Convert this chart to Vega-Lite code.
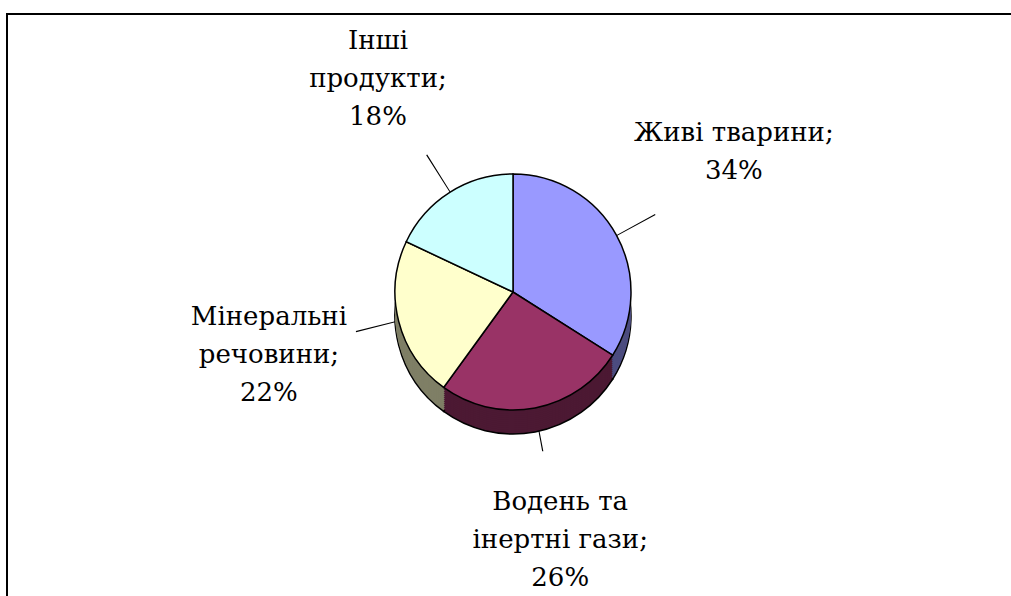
{
  "$schema": "https://vega.github.io/schema/vega-lite/v6.json",
  "width": 1012,
  "height": 592,
  "autosize": "none",
  "padding": {"left": 7, "top": 14, "right": -8, "bottom": -10},
  "background": "#ffffff",
  "view": {"stroke": "#000000", "strokeWidth": 2},
  "config": {"view": {"stroke": "#000000", "strokeWidth": 2}},
  "data": {
    "values": [
      {"category": "Живі тварини", "value": 34, "order": 1, "label": "Живі тварини;\n34%"},
      {"category": "Водень та інертні гази", "value": 26, "order": 2, "label": "Водень та\nінертні гази;\n26%"},
      {"category": "Мінеральні речовини", "value": 22, "order": 3, "label": "Мінеральні\nречовини;\n22%"},
      {"category": "Інші продукти", "value": 18, "order": 4, "label": "Інші\nпродукти;\n18%"}
    ]
  },
  "encoding": {
    "theta": {"field": "value", "type": "quantitative", "stack": true, "scale": {"domain": [0, 100]}},
    "order": {"field": "order", "type": "quantitative"}
  },
  "layer": [
    {
      "transform": [
        {"window": [{"op": "sum", "field": "value", "as": "cum"}], "sort": [{"field": "order"}]},
        {"calculate": "datum.cum - datum.value / 2", "as": "mid"},
        {"calculate": "datum.cum - datum.value / 2 + 0.12", "as": "mid2"}
      ],
      "mark": {"type": "arc", "radius": 60, "radius2": 162, "fill": "#000000", "yOffset": -18},
      "encoding": {
        "theta": {"field": "mid", "type": "quantitative", "stack": null, "scale": {"domain": [0, 100]}},
        "theta2": {"field": "mid2"}
      }
    },
    {"mark": {"type": "arc", "radius": 118, "yOffset": 6, "stroke": "#000000", "strokeWidth": 1.5},
     "encoding": {"fill": {"field": "category", "type": "nominal", "legend": null,
       "scale": {"domain": ["Живі тварини", "Водень та інертні гази", "Мінеральні речовини", "Інші продукти"], "range": ["#4c4c7f", "#4c1933", "#7f7f66", "#667f7f"]}}}},
    {"mark": {"type": "arc", "radius": 118, "yOffset": 4}, "encoding": {"fill": {"field": "category", "type": "nominal", "legend": null}}},
    {"mark": {"type": "arc", "radius": 118, "yOffset": 2}, "encoding": {"fill": {"field": "category", "type": "nominal", "legend": null}}},
    {"mark": {"type": "arc", "radius": 118, "yOffset": 0}, "encoding": {"fill": {"field": "category", "type": "nominal", "legend": null}}},
    {"mark": {"type": "arc", "radius": 118, "yOffset": -2}, "encoding": {"fill": {"field": "category", "type": "nominal", "legend": null}}},
    {"mark": {"type": "arc", "radius": 118, "yOffset": -4}, "encoding": {"fill": {"field": "category", "type": "nominal", "legend": null}}},
    {"mark": {"type": "arc", "radius": 118, "yOffset": -6}, "encoding": {"fill": {"field": "category", "type": "nominal", "legend": null}}},
    {"mark": {"type": "arc", "radius": 118, "yOffset": -8}, "encoding": {"fill": {"field": "category", "type": "nominal", "legend": null}}},
    {"mark": {"type": "arc", "radius": 118, "yOffset": -10}, "encoding": {"fill": {"field": "category", "type": "nominal", "legend": null}}},
    {"mark": {"type": "arc", "radius": 118, "yOffset": -12}, "encoding": {"fill": {"field": "category", "type": "nominal", "legend": null}}},
    {"mark": {"type": "arc", "radius": 118, "yOffset": -14}, "encoding": {"fill": {"field": "category", "type": "nominal", "legend": null}}},
    {"mark": {"type": "arc", "radius": 118, "yOffset": -16}, "encoding": {"fill": {"field": "category", "type": "nominal", "legend": null}}},
    {"mark": {"type": "arc", "radius": 118, "yOffset": -18, "stroke": "#000000", "strokeWidth": 1.5},
     "encoding": {"color": {"field": "category", "type": "nominal", "legend": null,
       "scale": {"domain": ["Живі тварини", "Водень та інертні гази", "Мінеральні речовини", "Інші продукти"], "range": ["#9999ff", "#993366", "#ffffcc", "#ccffff"]}}}},
    {"mark": {"type": "text", "radius": 252, "yOffset": -18, "dy": -38, "font": "DejaVu Serif", "fontSize": 26, "lineBreak": "\n", "lineHeight": 38, "align": "center", "baseline": "middle", "color": "#000000"},
     "encoding": {"text": {"field": "label", "type": "nominal"}}}
  ]
}
